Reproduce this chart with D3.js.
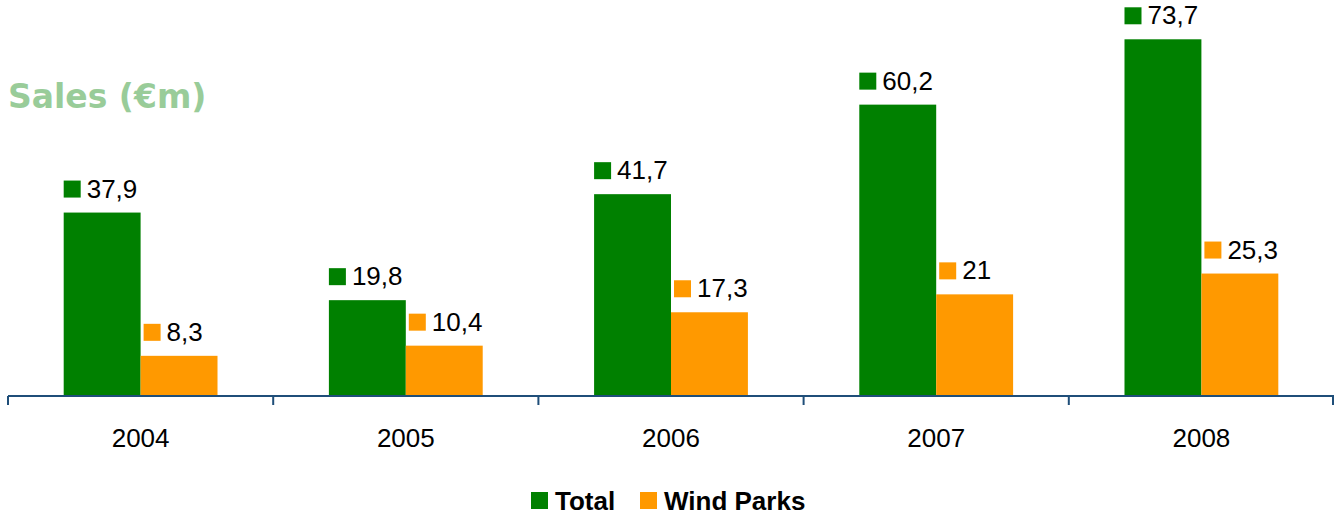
<!DOCTYPE html>
<html><head><meta charset="utf-8">
<script src="https://cdn.jsdelivr.net/npm/d3@7"></script>
<style>body{margin:0;background:#fff}svg{display:block}</style>
</head><body>
<svg id="c" width="1334" height="516"></svg>
<script>
const years = ["2004","2005","2006","2007","2008"];
const totalValues = [37.9, 19.8, 41.7, 60.2, 73.7];
const windValues = [8.3, 10.4, 17.3, 21, 25.3];
const seriesNames = ["Total","Wind Parks"];
const seriesColors = ["#008000","#ff9900"];
const title = "Sales (€m)";

const svg = d3.select("#c");
const x = d3.scaleBand().domain(years).range([8, 1334]).padding(0);
const bw = x.bandwidth();
const barW = bw * 0.29;
const y = d3.scaleLinear().domain([0, 80]).range([396, 396 - 80*4.84]);
const fmt = v => String(v).replace(".", ",");

const series = [totalValues, windValues];
series.forEach((vals, si) => {
  const g = svg.append("g");
  const data = years.map((yr, i) => ({yr, v: vals[i]}));
  const bx = d => x(d.yr) + bw/2 - barW + si*barW;
  g.selectAll("rect.bar").data(data).enter().append("rect")
    .attr("x", bx).attr("width", barW)
    .attr("y", d => y(d.v)).attr("height", d => y(0) - y(d.v))
    .attr("fill", seriesColors[si]);
  g.selectAll("rect.mk").data(data).enter().append("rect")
    .attr("x", d => bx(d) + (si ? 3 : 0)).attr("width", 17)
    .attr("y", d => y(d.v) - 32).attr("height", 17)
    .attr("fill", seriesColors[si]);
  g.selectAll("text").data(data).enter().append("text")
    .attr("x", d => bx(d) + (si ? 3 : 0) + 23).attr("y", d => y(d.v) - 15)
    .attr("font-family", "Liberation Sans, Arial, sans-serif")
    .attr("font-size", 26).attr("fill", "#000")
    .text(d => fmt(d.v));
});

// axis
const axisColor = "#1f4e79";
const ax = svg.append("g").attr("transform", "translate(0,396)");
ax.append("line").attr("x1", 8).attr("x2", 1334).attr("y1", 0).attr("y2", 0)
  .attr("stroke", axisColor).attr("stroke-width", 2);
const edges = years.map(yr => x(yr)).concat([x(years[years.length-1]) + bw]);
ax.selectAll("line.t").data(edges).enter().append("line")
  .attr("x1", d => Math.min(d, 1333)).attr("x2", d => Math.min(d, 1333))
  .attr("y1", 0).attr("y2", 9).attr("stroke", axisColor).attr("stroke-width", 2);
ax.selectAll("text").data(years).enter().append("text")
  .attr("x", d => x(d) + bw/2).attr("y", 51).attr("text-anchor", "middle")
  .attr("font-family", "Liberation Sans, Arial, sans-serif").attr("font-size", 26)
  .attr("fill", "#000").text(d => d);

// title
svg.append("text").attr("x", 8).attr("y", 108)
  .attr("font-family", "DejaVu Sans, Verdana, sans-serif").attr("font-weight", "bold")
  .attr("font-size", 33).attr("fill", "#99cc99").text(title);

// legend
const leg = svg.append("g");
const legX = [531, 640];
seriesNames.forEach((n, i) => {
  leg.append("rect").attr("x", legX[i]).attr("y", 492).attr("width", 17).attr("height", 17).attr("fill", seriesColors[i]);
  leg.append("text").attr("x", legX[i] + 24).attr("y", 510)
    .attr("font-family", "Liberation Sans, Arial, sans-serif").attr("font-weight", "bold")
    .attr("font-size", 26).attr("fill", "#000").text(n);
});
</script>
</body></html>
